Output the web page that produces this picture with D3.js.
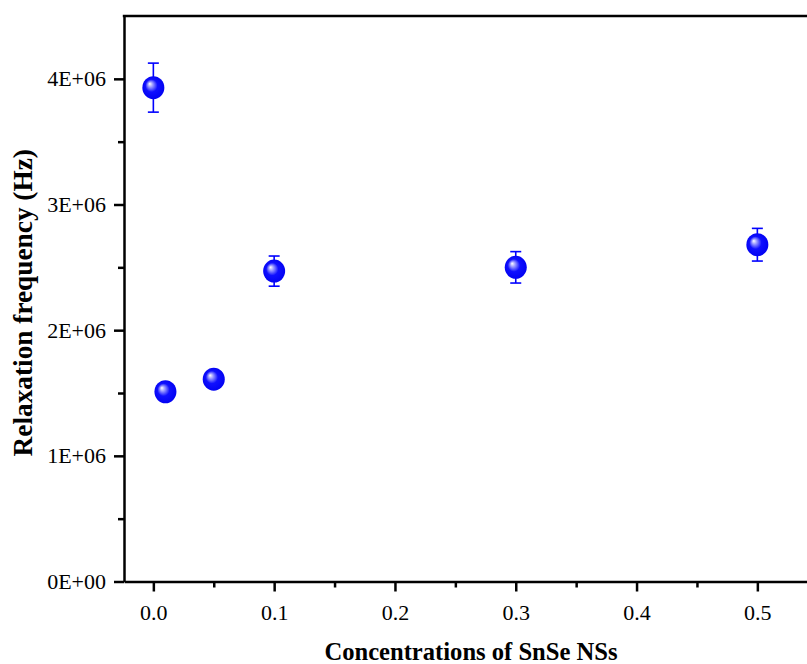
<!DOCTYPE html>
<head>
  <meta charset="utf-8">
  <script src="https://d3js.org/d3.v7.min.js"></script>
  <style>
    body { margin:0; background:#fff; overflow:hidden; }
    .axis text { font-family: "Liberation Serif", "Times New Roman", serif; font-size: 22px; fill: #000; }
    .axis path, .axis line { stroke: #000; }
    .axis path { stroke-width: 2.5; }
    .axis line { stroke-width: 2.5; }
    .label { font-family: "Liberation Serif", "Times New Roman", serif; font-weight: bold; fill: #000; }
    .err { stroke: #0000ff; stroke-width: 1.6; fill: none; }
  </style>
</head>
<body>
  <script>
    // concentrations of SnSe NSs
    var conc = [0.0, 0.01, 0.05, 0.1, 0.3, 0.5];
    // relaxation frequency (Hz)
    var freq = [3.93e6, 1.51e6, 1.61e6, 2.47e6, 2.50e6, 2.68e6];
    // error bar half-widths (Hz)
    var freqErr = [0.195e6, 0.05e6, 0.05e6, 0.12e6, 0.125e6, 0.13e6];

    var xMajor = [0, 0.1, 0.2, 0.3, 0.4, 0.5];
    var xMinor = [0.05, 0.15, 0.25, 0.35, 0.45];
    var yMajor = [0, 1e6, 2e6, 3e6, 4e6];
    var yMinor = [0.5e6, 1.5e6, 2.5e6, 3.5e6];
    var yTickLabels = ["0E+00", "1E+06", "2E+06", "3E+06", "4E+06"];

    var data = conc.map(function(c, i) {
      return { x: c, y: freq[i], err: freqErr[i] };
    });

    var W = 807, H = 664;
    var plotLeft = 124, plotTop = 16, plotBottom = 581.5;

    var svg = d3.select("body").append("svg")
      .attr("width", W)
      .attr("height", H);

    var x = d3.scaleLinear()
      .domain([-0.0243, 0.55])
      .range([plotLeft, plotLeft + 0.5743 * 1208]);

    var y = d3.scaleLinear()
      .domain([0, 4.5e6])
      .range([plotBottom, plotTop]);

    var defs = svg.append("defs");
    var grad = defs.append("radialGradient")
      .attr("id", "ball")
      .attr("cx", "50%").attr("cy", "50%").attr("r", "55%")
      .attr("fx", "33%").attr("fy", "33%");
    grad.append("stop").attr("offset", "0%").attr("stop-color", "#ffffff");
    grad.append("stop").attr("offset", "20%").attr("stop-color", "#9c9cff");
    grad.append("stop").attr("offset", "50%").attr("stop-color", "#1010ff");
    grad.append("stop").attr("offset", "100%").attr("stop-color", "#0000f0");

    // top frame line
    svg.append("line")
      .attr("x1", plotLeft - 1.2).attr("x2", W)
      .attr("y1", plotTop).attr("y2", plotTop)
      .attr("stroke", "#000").attr("stroke-width", 2.5);

    // minor ticks
    svg.append("g")
      .attr("class", "axis")
      .attr("transform", "translate(0," + plotBottom + ")")
      .call(d3.axisBottom(x).tickValues(xMinor).tickSize(6).tickSizeOuter(0).tickFormat(""))
      .select(".domain").remove();

    svg.append("g")
      .attr("class", "axis")
      .attr("transform", "translate(" + plotLeft + ",0)")
      .call(d3.axisLeft(y).tickValues(yMinor).tickSize(6).tickSizeOuter(0).tickFormat(""))
      .select(".domain").remove();

    // major axes
    svg.append("g")
      .attr("class", "axis")
      .attr("transform", "translate(0," + plotBottom + ")")
      .call(d3.axisBottom(x).tickValues(xMajor).tickSize(10).tickSizeOuter(0)
        .tickPadding(13).tickFormat(d3.format(".1f")));

    svg.append("g")
      .attr("class", "axis")
      .attr("transform", "translate(" + plotLeft + ",0)")
      .call(d3.axisLeft(y).tickValues(yMajor).tickSize(10).tickSizeOuter(0)
        .tickPadding(8).tickFormat(function(d, i) { return yTickLabels[i]; }));

    // error bars
    var cap = 5.5;
    var eb = svg.append("g");
    data.forEach(function(d) {
      var cx = x(d.x), y1 = y(d.y + d.err), y2 = y(d.y - d.err);
      eb.append("line").attr("class", "err")
        .attr("x1", cx).attr("x2", cx).attr("y1", y1).attr("y2", y2);
      eb.append("line").attr("class", "err")
        .attr("x1", cx - cap).attr("x2", cx + cap).attr("y1", y1).attr("y2", y1);
      eb.append("line").attr("class", "err")
        .attr("x1", cx - cap).attr("x2", cx + cap).attr("y1", y2).attr("y2", y2);
    });

    // markers
    svg.append("g").selectAll("ellipse")
      .data(data)
      .enter().append("ellipse")
      .attr("cx", function(d) { return x(d.x); })
      .attr("cy", function(d) { return y(d.y); })
      .attr("rx", 11)
      .attr("ry", 11.5)
      .attr("fill", "url(#ball)");

    // axis titles
    svg.append("text")
      .attr("class", "label")
      .attr("x", (plotLeft + 818) / 2)
      .attr("y", 660)
      .attr("text-anchor", "middle")
      .style("font-size", "24.6px")
      .text("Concentrations of SnSe NSs");

    svg.append("text")
      .attr("class", "label")
      .attr("transform", "translate(32," + ((plotTop + plotBottom) / 2 + 4) + ") rotate(-90)")
      .attr("text-anchor", "middle")
      .style("font-size", "27.3px")
      .text("Relaxation frequency (Hz)");
  </script>
</body>
